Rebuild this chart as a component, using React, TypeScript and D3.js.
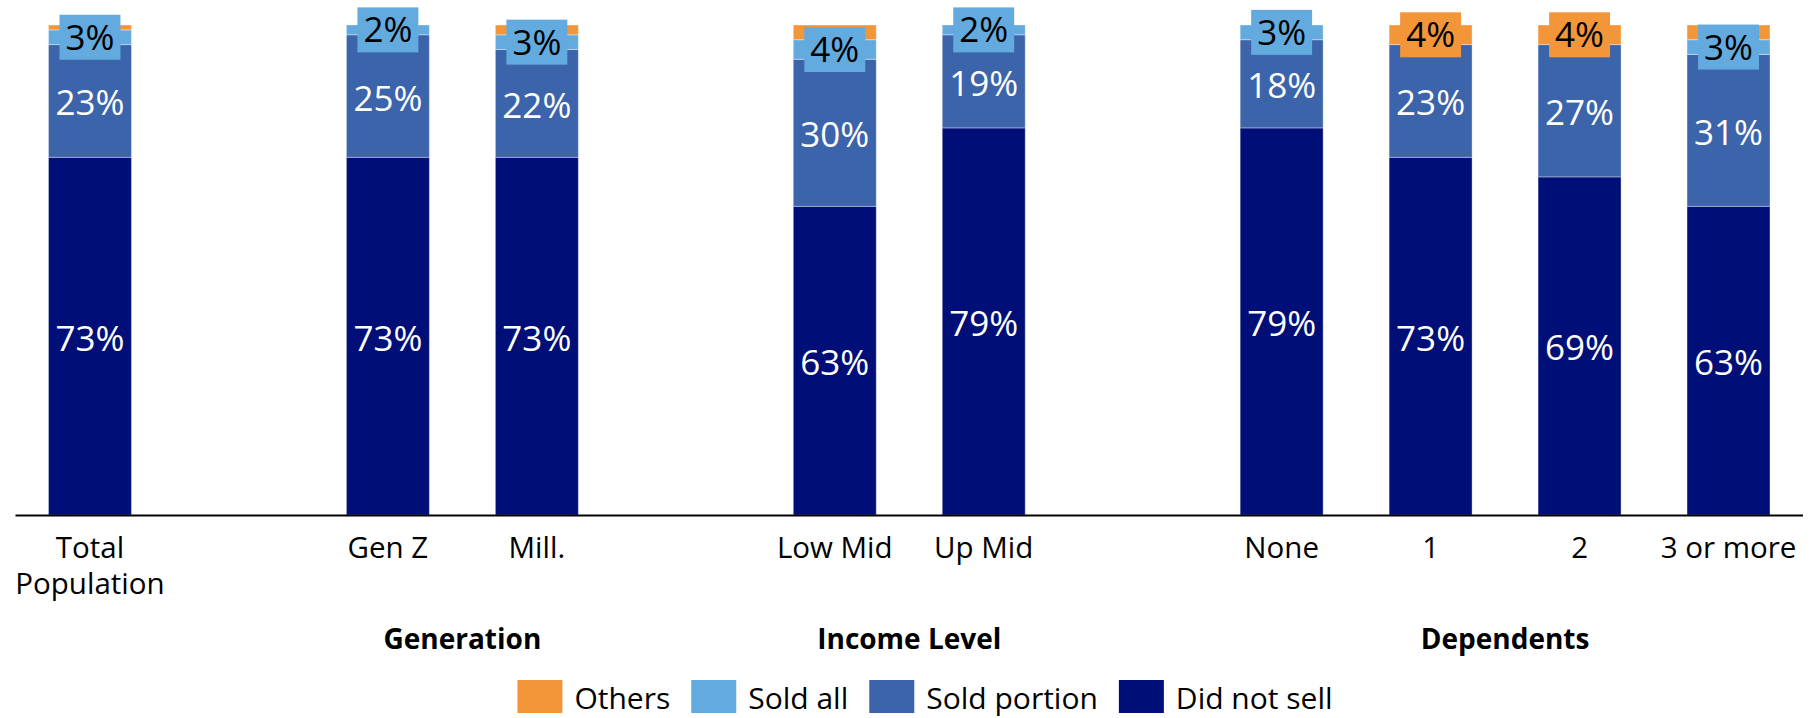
import React from "react";
import * as d3 from "d3";

const categories = ["Total\nPopulation", "Gen Z", "Mill.", "Low Mid", "Up Mid", "None", "1", "2", "3 or more"];
const groups = ["", "Generation", "Generation", "Income Level", "Income Level", "Dependents", "Dependents", "Dependents", "Dependents"];
const didNotSell = [73, 73, 73, 63, 79, 79, 73, 69, 63];
const soldPortion = [23, 25, 22, 30, 19, 18, 23, 27, 31];
const soldAll = [3, 2, 3, 4, 2, 3, 0, 0, 3];
const others = [1, 0, 2, 3, 0, 0, 4, 4, 3];

const seriesNames = ["Did not sell", "Sold portion", "Sold all", "Others"];
const seriesColors = ["#000F78", "#3C64AB", "#63AADF", "#F3963A"];
const legendOrder = [3, 2, 1, 0];

const W = 1812;
const H = 718;
const FONT = "'Open Sans', 'Noto Sans', sans-serif";

function measure(text: string, size: number, weight = "normal") {
  const c = document.createElement("canvas");
  const ctx = c.getContext("2d")!;
  ctx.font = `${weight} ${size}px 'Open Sans'`;
  return ctx.measureText(text).width;
}

export default function App() {
  const slots: string[] = [];
  const slotOf: string[] = [];
  let prev: string | null = null;
  categories.forEach((c, i) => {
    if (prev !== null && groups[i] !== prev) slots.push(`__gap${i}`);
    slots.push(`c${i}`);
    slotOf.push(`c${i}`);
    prev = groups[i];
  });

  const x = d3.scaleBand<string>().domain(slots).range([15.5, 1803]).paddingInner(0.443).paddingOuter(0.2215);
  const y = d3.scaleLinear().domain([0, 100]).range([515, 25]);

  const rows = categories.map((c, i) => ({
    key: slotOf[i],
    vals: [didNotSell[i], soldPortion[i], soldAll[i], others[i]],
  }));
  const stack = d3.stack<any>().keys([0, 1, 2, 3] as any).value((d: any, k: any) => d.vals[k]);
  const stacked = stack(rows as any);

  const labelFs = 35;
  const bw = x.bandwidth();

  const groupNames = Array.from(new Set(groups.filter((g) => g)));
  const groupCenters = groupNames.map((g) => {
    const idx = groups.map((gg, i) => (gg === g ? i : -1)).filter((i) => i >= 0);
    const xs = idx.map((i) => x(slotOf[i])! + bw / 2);
    return { g, cx: (d3.min(xs)! + d3.max(xs)!) / 2 };
  });

  const legFs = 30;
  const sw = 45, swH = 33, gap1 = 12, gap2 = 21;
  const items = legendOrder.map((s) => ({ s, tw: measure(seriesNames[s], legFs) }));
  const totalW = d3.sum(items, (d) => sw + gap1 + d.tw) + gap2 * (items.length - 1);
  let lx = 925 - totalW / 2;
  const legendItems = items.map((d) => {
    const it = { ...d, x: lx };
    lx += sw + gap1 + d.tw + gap2;
    return it;
  });

  return (
    <svg width={W} height={H} style={{ position: "absolute", left: 0, top: 0, background: "#fff" }} fontFamily={FONT}>
      {stacked.map((layer: any, si: number) => (
        <g key={si} fill={seriesColors[si]}>
          {layer.map((d: any, i: number) => {
            const h = y(d[0]) - y(d[1]);
            if (h <= 0) return null;
            return (
              <rect
                key={i}
                x={x(rows[i].key)}
                y={y(d[1])}
                width={bw}
                height={h}
                stroke="#ffffff"
                strokeOpacity={0.35}
                strokeWidth={1}
              />
            );
          })}
        </g>
      ))}
      {[0, 1].map((si) =>
        stacked[si].map((d: any, i: number) => {
          const cy = (y(d[0]) + y(d[1])) / 2;
          const cx = x(rows[i].key)! + bw / 2;
          return (
            <text key={`l${si}-${i}`} x={cx} y={cy + labelFs * 0.357 + 2} textAnchor="middle" fontSize={labelFs} fill="#ffffff">
              {`${rows[i].vals[si]}%`}
            </text>
          );
        })
      )}
      {rows.map((r, i) => {
        const si = r.vals[2] > 0 ? 2 : 3;
        const d = stacked[si][i];
        const cy = (y(d[0]) + y(d[1])) / 2;
        const cx = x(r.key)! + bw / 2;
        const t = `${r.vals[si]}%`;
        const tw = measure(t, labelFs) + 12;
        const bh = 45;
        return (
          <g key={`b${i}`}>
            <rect x={cx - tw / 2} y={cy - bh / 2} width={tw} height={bh} fill={seriesColors[si]} />
            <text x={cx} y={cy + labelFs * 0.357} textAnchor="middle" fontSize={labelFs} fill="#000000">
              {t}
            </text>
          </g>
        );
      })}
      <line x1={15.5} x2={1803} y1={515.5} y2={515.5} stroke="#000" strokeWidth={1.8} />
      {categories.map((c, i) => {
        const cx = x(slotOf[i])! + bw / 2;
        const lines = c.split("\n");
        return (
          <g key={`c${i}`}>
            {lines.map((ln, j) => (
              <text key={j} x={cx} y={557.5 + j * 36} textAnchor="middle" fontSize={29.5} fill="#000">
                {ln}
              </text>
            ))}
          </g>
        );
      })}
      {groupCenters.map((g) => (
        <text key={g.g} x={g.cx} y={649} textAnchor="middle" fontSize={28} fontWeight="bold" fill="#000">
          {g.g}
        </text>
      ))}
      {legendItems.map((it) => (
        <g key={it.s}>
          <rect x={it.x} y={680} width={sw} height={swH} fill={seriesColors[it.s]} />
          <text x={it.x + sw + gap1} y={709} fontSize={legFs} fill="#000">
            {seriesNames[it.s]}
          </text>
        </g>
      ))}
    </svg>
  );
}
